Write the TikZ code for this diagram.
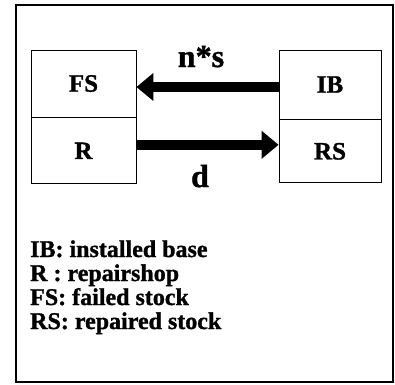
\documentclass[tikz,border=0pt]{standalone}
\usepackage{fontspec}
\setmainfont{Liberation Serif}[BoldFeatures={FakeBold=1.2}]
\usepackage{tikz}
\usetikzlibrary{arrows.meta,positioning}
\tikzset{
  stock/.style={draw, line width=0.8pt, inner sep=0pt, minimum width=105,
    font=\bfseries\fontsize{25}{25}\selectfont},
  flow/.style={line width=10pt, -{Triangle[length=17pt, width=27pt]}},
  rate/.style={anchor=base, inner sep=0pt, font=\bfseries\fontsize{32}{32}\selectfont},
  legend/.style={anchor=base west, inner sep=0pt,
    font=\bfseries\fontsize{24}{24}\selectfont}
}

\begin{document}
\begin{tikzpicture}[x=1pt, y=-1pt]

    % page and outer frame
    \useasboundingbox (0,0) rectangle (395,384);
    \draw[line width=1.6pt] (16,5) rectangle (393,382);

    % failed stock / repairshop
    \node[stock, minimum height=67] (fs) at (83.5,83.5) {FS};
    \node[stock, minimum height=66, below=0pt of fs] (r) {R};

    % installed base / repaired stock
    \node[stock, minimum width=102, minimum height=69] (ib) at (330,84.5) {IB};
    \node[stock, minimum width=102, minimum height=63, below=0pt of ib] (rs) {RS};

    % flows between the two sides
    \draw[flow] ([yshift=-2.5pt]ib.west) -- ([yshift=-2.5pt]ib.west -| fs.east);
    \draw[flow] ([yshift=6pt]r.east) -- ([yshift=6pt]r.east -| rs.west);
    \node[rate] (ns) at (201,67) {n*s};
    \node[rate] (d) at (200,187) {d};

    % legend
    \foreach \txt/\y [count=\i] in {
      IB: installed base/257,
      R : repairshop/281,
      FS: failed stock/305,
      RS: repaired stock/329
    }{
      \node[legend] (leg\i) at (30,\y) {\txt};
    }

\end{tikzpicture}
\end{document}
